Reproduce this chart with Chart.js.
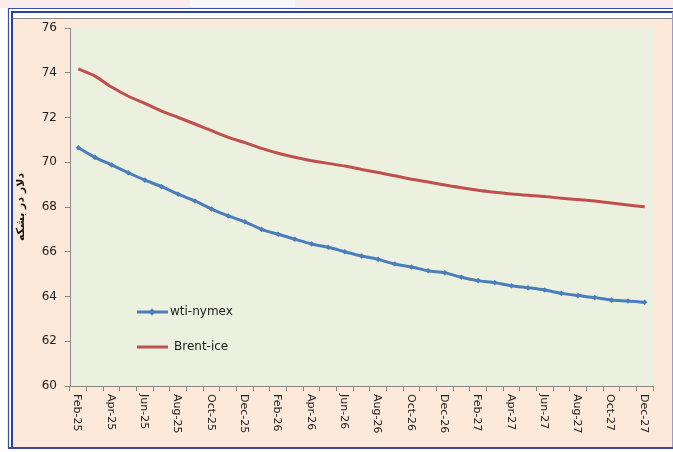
<!DOCTYPE html>
<html>
<head>
<meta charset="utf-8">
<script src="https://cdn.jsdelivr.net/npm/chart.js@4.4.1/dist/chart.umd.min.js"></script>
<style>
  html, body { margin: 0; padding: 0; background: #fff; }
  canvas { display: block; }
</style>
</head>
<body>
<canvas id="myChart" width="673" height="452"></canvas>
<script>
// months Feb-25 .. Dec-27
const months = ['Jan','Feb','Mar','Apr','May','Jun','Jul','Aug','Sep','Oct','Nov','Dec'];
const labels = [];
for (let y = 25; y <= 27; y++) {
  months.forEach((m, i) => {
    if (y === 25 && i === 0) return;
    labels.push(m + '-' + y);
  });
}

// valores
const wti = [70.65, 70.22, 69.88, 69.53, 69.20, 68.91, 68.57, 68.27, 67.91, 67.60, 67.34,
             67.00, 66.78, 66.56, 66.35, 66.20, 66.00, 65.81, 65.66, 65.45, 65.32, 65.15,
             65.06, 64.86, 64.71, 64.62, 64.48, 64.39, 64.29, 64.14, 64.04, 63.95, 63.84,
             63.80, 63.74];
const brent = [74.17, 73.85, 73.36, 72.95, 72.63, 72.29, 72.00, 71.71, 71.41, 71.11, 70.88,
               70.62, 70.40, 70.22, 70.07, 69.95, 69.83, 69.68, 69.54, 69.40, 69.24, 69.12,
               68.98, 68.86, 68.75, 68.66, 68.58, 68.52, 68.47, 68.39, 68.34, 68.27, 68.18,
               68.09, 68.01];
const yTicks = [60, 62, 64, 66, 68, 70, 72, 74, 76];
const seriesNames = ['wti-nymex', 'Brent-ice'];
const yTitle = 'دلار در بشکه';

const blue = '#4A7EBB';
const red = '#C0504D';

// fondo, marco y area del grafico
const framePlugin = {
  id: 'frame',
  beforeDraw(chart) {
    const c = chart.ctx;
    const a = chart.chartArea;
    c.save();
    c.fillStyle = '#ffffff';
    c.fillRect(0, 0, 673, 452);
    c.fillStyle = '#FBECEC';
    c.fillRect(0, 0, 673, 8);
    c.fillStyle = '#F7F8FC';
    c.fillRect(190, 0, 105, 7);
    c.fillStyle = '#FDE9D9';
    c.fillRect(12, 18, 660, 430);
    c.fillStyle = '#EBF1DE';
    c.fillRect(a.left, a.top, a.right - a.left, a.bottom - a.top);

    c.strokeStyle = '#3A4FA6';
    c.lineWidth = 1.2;
    c.beginPath();
    c.moveTo(8.5, 448); c.lineTo(8.5, 8.5); c.lineTo(673, 8.5);
    c.stroke();
    c.strokeStyle = '#2B3F9C';
    c.lineWidth = 2;
    c.beginPath();
    c.moveTo(12, 448); c.lineTo(12, 12); c.lineTo(673, 12);
    c.stroke();
    c.fillStyle = '#ffffff';
    c.fillRect(13, 13, 660, 4.5);
    c.strokeStyle = '#8A8A8A';
    c.lineWidth = 1;
    c.beginPath();
    c.moveTo(13, 18.5); c.lineTo(673, 18.5);
    c.stroke();
    c.strokeStyle = '#9C9CCC';
    c.beginPath();
    c.moveTo(672.5, 12); c.lineTo(672.5, 448);
    c.stroke();
    c.strokeStyle = '#3B4A9A';
    c.lineWidth = 2;
    c.beginPath();
    c.moveTo(8, 448); c.lineTo(673, 448);
    c.stroke();
    c.restore();
  },
  afterDraw(chart) {
    const c = chart.ctx;
    const x = chart.scales.x;
    c.save();
    // etiquetas del eje x, giradas
    c.fillStyle = '#222';
    c.font = '11px "DejaVu Sans"';
    c.textAlign = 'left';
    c.textBaseline = 'middle';
    labels.forEach((lab, i) => {
      if (i % 2 !== 0) return;
      const px = x.getPixelForValue(i) - 1;
      c.save();
      c.translate(px, 394);
      c.rotate(Math.PI / 2);
      c.fillText(lab, 0, 0);
      c.restore();
    });
    // leyenda
    c.lineWidth = 3;
    c.strokeStyle = blue;
    c.beginPath(); c.moveTo(137, 312); c.lineTo(168, 312); c.stroke();
    c.fillStyle = blue;
    c.beginPath();
    c.moveTo(152, 308.5); c.lineTo(155.5, 312); c.lineTo(152, 315.5); c.lineTo(148.5, 312);
    c.closePath(); c.fill();
    c.strokeStyle = red;
    c.beginPath(); c.moveTo(137, 347); c.lineTo(168, 347); c.stroke();
    c.fillStyle = '#222';
    c.font = '12px "DejaVu Sans"';
    c.fillText(seriesNames[0], 170, 312);
    c.fillText(seriesNames[1], 174, 347);
    c.restore();
  }
};

const ctx = document.getElementById('myChart');

new Chart(ctx, {
  type: 'line',
  data: {
    labels: labels,
    datasets: [{
      label: seriesNames[0],
      data: wti,
      borderColor: blue,
      backgroundColor: blue,
      borderWidth: 3,
      pointStyle: 'rectRot',
      pointRadius: 2.8,
      pointBorderWidth: 0,
      tension: 0.25
    }, {
      label: seriesNames[1],
      data: brent,
      borderColor: red,
      backgroundColor: red,
      borderWidth: 3,
      pointRadius: 0,
      tension: 0.25
    }]
  },
  options: {
    responsive: false,
    animation: false,
    layout: { padding: { left: 13, top: 28, right: 20, bottom: 0 } },
    plugins: {
      legend: { display: false },
      tooltip: { enabled: false }
    },
    scales: {
      x: {
        offset: true,
        grid: { offset: true, drawOnChartArea: false, drawTicks: true, tickLength: 5, color: '#888' },
        border: { color: '#888' },
        ticks: { display: false, autoSkip: false },
        afterFit: (s) => { s.height = 66; }
      },
      y: {
        min: 60,
        max: 76,
        afterBuildTicks: (s) => { s.ticks = yTicks.map(v => ({ value: v })); },
        grid: { drawOnChartArea: false, drawTicks: true, tickLength: 5, color: '#888' },
        border: { color: '#888' },
        ticks: { padding: 8, color: '#222', font: { family: 'DejaVu Sans', size: 12 } },
        title: {
          display: true,
          text: yTitle,
          color: '#111',
          font: { family: 'DejaVu Sans', size: 11, weight: 'bold' },
          padding: { top: 2, bottom: 0 }
        },
        afterFit: (s) => { s.width = 57; }
      }
    }
  },
  plugins: [framePlugin]
});
</script>
</body>
</html>
